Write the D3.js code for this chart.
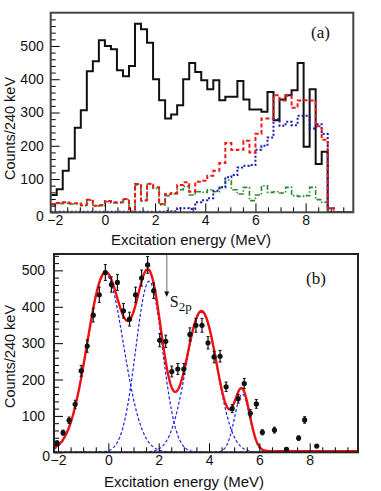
<!DOCTYPE html>
<html>
<head>
<meta charset="utf-8">
<script src="https://cdn.jsdelivr.net/npm/d3@7"></script>
<style>
  body { margin: 0; background: #fff; }
</style>
</head>
<body>
<div id="grafico"></div>
<script>
// Panel (a): histogramas de 240 keV que empiezan en -2.16 MeV
const binInicio = -2.16, binAncho = 0.24;

const cuentasTotal = [52, 69, 125, 162, 254, 307, 424, 454, 517, 500,
    490, 427, 409, 440, 567, 550, 510, 400, 337, 282,
    294, 322, 400, 449, 422, 397, 370, 397, 337, 347,
    347, 395, 339, 309, 309, 302, 362, 277, 339, 352,
    367, 449, 197, 370, 145, 182, 0, 0, 0, 0];

const cuentasRojo = [25, 28, 30, 27, 27, 22, 38, 20, 22, 34,
    30, 30, 40, 2, 85, 36, 86, 75, 25, 55,
    58, 82, 90, 62, 92, 95, 110, 125, 148, 208,
    187, 188, 215, 180, 236, 282, 282, 352, 336, 350,
    314, 336, 337, 336, 259, 218, 12, 0, 0, 0];

const cuentasAzul = [2, 2, 2, 2, 2, 2, 2, 2, 2, 2,
    2, 2, 2, 2, 2, 2, 2, 2, 2, 3,
    3, 12, 12, 10, 30, 36, 42, 65, 75, 105,
    112, 135, 140, 142, 188, 200, 225, 280, 260, 272,
    262, 290, 290, 252, 265, 235, 12, 0, 0, 0];

const cuentasVerde = [23, 26, 28, 25, 25, 20, 36, 18, 20, 32,
    28, 28, 38, 0, 82, 34, 84, 72, 22, 50,
    55, 68, 78, 52, 62, 60, 68, 62, 75, 97,
    68, 55, 75, 35, 52, 80, 60, 62, 58, 75,
    50, 48, 50, 75, 38, 30, 0, 0, 0, 0];

// Panel (b): puntos con error y ajuste
const puntosX = [-2.04, -1.80, -1.56, -1.32, -1.08, -0.84, -0.60, -0.36, -0.12, 0.12,
    0.36, 0.60, 0.84, 1.08, 1.32, 1.56, 1.80, 2.04, 2.28, 2.52,
    2.76, 3.00, 3.24, 3.48, 3.72, 3.96, 4.20, 4.44, 4.68, 4.92,
    5.16, 5.40, 5.64, 5.88, 6.12, 6.60, 7.08, 7.56, 7.80, 8.28];
const puntosY = [26, 54, 88, 132, 224, 292, 377, 433, 494, 461,
    467, 389, 366, 433, 479, 515, 444, 308, 305, 222,
    229, 229, 324, 349, 349, 301, 262, 264, 180, 120,
    147, 189, 107, 133, 55, 61, 8, 39, 89, 17];
const puntosErr = [5, 7, 9, 11, 15, 17, 19, 21, 22, 21,
    22, 20, 19, 21, 22, 23, 21, 18, 17, 15,
    15, 15, 18, 19, 19, 17, 16, 16, 13, 11,
    12, 14, 10, 12, 7, 8, 3, 6, 9, 4];

// Componentes gaussianas del ajuste
const picoCentro = [-0.12, 1.62, 3.70, 5.32];
const picoSigma = [0.72, 0.53, 0.62, 0.30];
const picoAltura = [490, 470, 385, 160];
const fondo = 3;

const s2p = 2.32;

const ticksX = [-2, 0, 2, 4, 6, 8];
const ticksY = [0, 100, 200, 300, 400, 500];

const sans = "'Liberation Sans', Arial, Helvetica, sans-serif";
const serif = "'Liberation Serif', 'Times New Roman', serif";

const svg = d3.select("#grafico")
    .append("svg")
    .attr("width", 381)
    .attr("height", 491);

function dibujarEjes(x, y, opciones) {
    const [x0, x1] = x.range();
    const [y0, y1] = y.range();
    const g = svg.append("g");

    const menoresY = d3.range(0, y.domain()[1], 20).filter(v => v % 100 !== 0);
    const menoresX = d3.range(-2, x.domain()[1], 0.5).filter(v => Math.abs(v % 2) > 0.01);

    g.append("g")
        .attr("transform", `translate(${x0},0)`)
        .call(d3.axisLeft(y).tickValues(menoresY).tickSize(-5).tickFormat(""))
        .call(a => a.select(".domain").remove());

    const ejeY = g.append("g")
        .attr("transform", `translate(${x0},0)`)
        .call(d3.axisLeft(y).tickValues(ticksY).tickSize(-9).tickPadding(opciones.padY))
        .call(a => a.select(".domain").remove());
    ejeY.selectAll("text").attr("font-family", sans).attr("font-size", 14).attr("fill", "#111");
    ejeY.selectAll(".tick").filter(d => d === 0).select("text")
        .attr("dy", "0.6em").attr("dx", opciones.dxCero);

    g.append("g")
        .attr("transform", `translate(0,${y0})`)
        .call(d3.axisBottom(x).tickValues(menoresX).tickSize(-5).tickFormat(""))
        .call(a => a.select(".domain").remove());

    const ejeX = g.append("g")
        .attr("transform", `translate(0,${y0})`)
        .call(d3.axisBottom(x).tickValues(ticksX).tickSize(-9).tickPadding(3))
        .call(a => a.select(".domain").remove());
    ejeX.selectAll("text").attr("font-family", sans).attr("font-size", 14).attr("fill", "#111");

    // marco
    g.append("rect")
        .attr("x", x0).attr("y", y1)
        .attr("width", x1 - x0).attr("height", y0 - y1)
        .attr("fill", "none")
        .attr("stroke", opciones.marco)
        .attr("stroke-width", 2);

    // titulos
    svg.append("text")
        .attr("x", opciones.tituloX[0]).attr("y", opciones.tituloX[1])
        .attr("font-family", sans).attr("font-size", 15).attr("fill", "#111")
        .text("Excitation energy (MeV)");
    svg.append("text")
        .attr("transform", `translate(${opciones.tituloY[0]},${opciones.tituloY[1]}) rotate(-90)`)
        .attr("text-anchor", "middle")
        .attr("font-family", sans).attr("font-size", 14.5).attr("fill", "#111")
        .text("Counts/240 keV");
    svg.append("text")
        .attr("x", opciones.etiqueta[0]).attr("y", opciones.etiqueta[1])
        .attr("font-family", serif).attr("font-size", 17).attr("fill", "#111")
        .text(opciones.letra);
}

// ---------- Panel (a) ----------
const xA = d3.scaleLinear().domain([-2.16, 9.9]).range([50.7, 353.3]);
const yA = d3.scaleLinear().domain([0, 600]).range([212.3, 12.7]);

svg.append("clipPath").attr("id", "clipA")
    .append("rect").attr("x", 50.7).attr("y", 12.7).attr("width", 302.6).attr("height", 199.6);

function escalones(valores) {
    const pts = valores.map((v, i) => [binInicio + i * binAncho, v]);
    pts.push([binInicio + valores.length * binAncho, valores[valores.length - 1]]);
    return d3.line().curve(d3.curveStepAfter).x(d => xA(d[0])).y(d => yA(d[1]))(pts);
}

const histos = svg.append("g").attr("clip-path", "url(#clipA)");

histos.append("path").attr("d", escalones(cuentasTotal))
    .attr("fill", "none").attr("stroke", "#111").attr("stroke-width", 2);
histos.append("path").attr("d", escalones(cuentasVerde))
    .attr("fill", "none").attr("stroke", "#2a8a2a").attr("stroke-width", 1.6)
    .attr("stroke-dasharray", "5,2,1.5,2");
histos.append("path").attr("d", escalones(cuentasAzul))
    .attr("fill", "none").attr("stroke", "#1a1ab4").attr("stroke-width", 2)
    .attr("stroke-dasharray", "2,2");
histos.append("path").attr("d", escalones(cuentasRojo))
    .attr("fill", "none").attr("stroke", "#f01818").attr("stroke-width", 2)
    .attr("stroke-dasharray", "4,2.5");

dibujarEjes(xA, yA, {
    padY: 7, dxCero: "0", marco: "#444",
    tituloX: [111, 245], tituloY: [15, 128.5],
    etiqueta: [311, 38], letra: "(a)"
});

// ---------- Panel (b) ----------
const xB = d3.scaleLinear().domain([-2.16, 9.92]).range([54, 358]);
const yB = d3.scaleLinear().domain([0, 545]).range([452.3, 254]);

svg.append("clipPath").attr("id", "clipB")
    .append("rect").attr("x", 54).attr("y", 254).attr("width", 304).attr("height", 198.3);

const gauss = (x, i) => picoAltura[i] * Math.exp(-0.5 * ((x - picoCentro[i]) / picoSigma[i]) ** 2);
const xsCurva = d3.range(-2.16, 9.92, 0.02);

const curvas = svg.append("g").attr("clip-path", "url(#clipB)");
const lineaB = d3.line().x(d => xB(d[0])).y(d => yB(d[1]));

picoCentro.forEach((c, i) => {
    curvas.append("path")
        .attr("d", lineaB(xsCurva.map(x => [x, gauss(x, i)])))
        .attr("fill", "none").attr("stroke", "#1f1ff0").attr("stroke-width", 1.2)
        .attr("stroke-dasharray", "3,2");
});

curvas.append("path")
    .attr("d", lineaB(xsCurva.map(x => [x, fondo + d3.sum(picoCentro, (c, i) => gauss(x, i))])))
    .attr("fill", "none").attr("stroke", "#f01010").attr("stroke-width", 2.4);

// barras de error y puntos
const puntos = svg.append("g");
puntosX.forEach((px, i) => {
    const cx = xB(px);
    const yHi = yB(puntosY[i] + puntosErr[i]);
    const yLo = yB(puntosY[i] - puntosErr[i]);
    puntos.append("line").attr("x1", cx).attr("x2", cx).attr("y1", yHi).attr("y2", yLo)
        .attr("stroke", "#111").attr("stroke-width", 1.2);
    puntos.append("line").attr("x1", cx - 1.5).attr("x2", cx + 1.5).attr("y1", yHi).attr("y2", yHi)
        .attr("stroke", "#111").attr("stroke-width", 1);
    puntos.append("line").attr("x1", cx - 1.5).attr("x2", cx + 1.5).attr("y1", yLo).attr("y2", yLo)
        .attr("stroke", "#111").attr("stroke-width", 1);
    puntos.append("circle").attr("cx", cx).attr("cy", yB(puntosY[i])).attr("r", 2.6).attr("fill", "#111");
});

// flecha S2p
const xS = xB(s2p);
svg.append("line").attr("x1", xS).attr("x2", xS).attr("y1", yB(545)).attr("y2", yB(440))
    .attr("stroke", "#999").attr("stroke-width", 1.5);
svg.append("path")
    .attr("d", `M${xS - 2.5},${yB(442)} L${xS + 2.5},${yB(442)} L${xS},${yB(427)} Z`)
    .attr("fill", "#111");
const etiquetaS = svg.append("text")
    .attr("x", xS + 3).attr("y", 307)
    .attr("font-family", serif).attr("font-size", 16).attr("fill", "#111");
etiquetaS.append("tspan").text("S");
etiquetaS.append("tspan").attr("font-size", 13).attr("dy", 4).text("2p");

dibujarEjes(xB, yB, {
    padY: 9, dxCero: "5", marco: "#222",
    tituloX: [104, 487], tituloY: [15, 356.5],
    etiqueta: [306, 284], letra: "(b)"
});
</script>
</body>
</html>
